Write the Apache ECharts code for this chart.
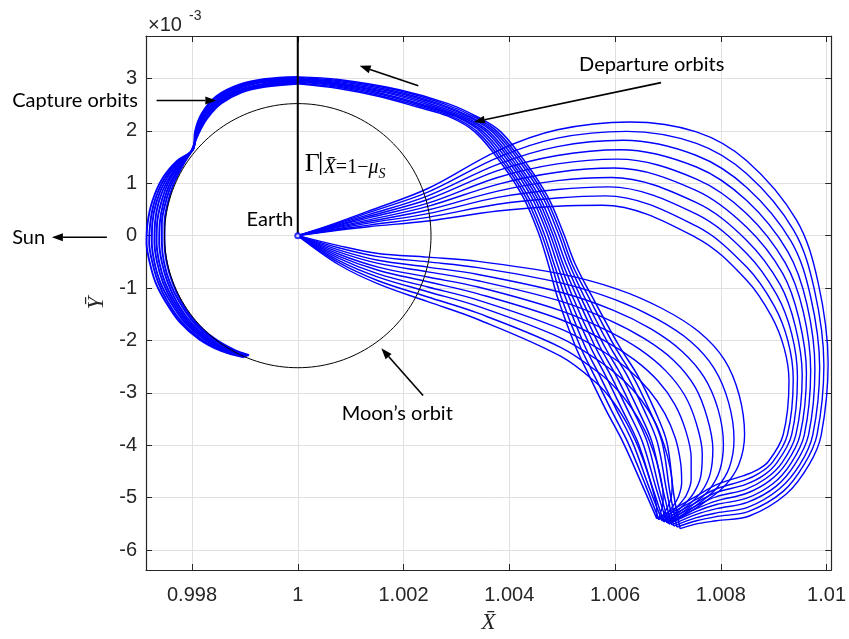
<!DOCTYPE html>
<html>
<head>
<meta charset="utf-8">
<script src="https://cdn.jsdelivr.net/npm/echarts@6/dist/echarts.min.js"></script>
<style>
  html, body { margin: 0; padding: 0; background: #ffffff; }
  #chart { width: 849px; height: 639px; }
</style>
</head>
<body>
<div id="chart"></div>
<script>
// Axis setup (Ȳ values are in units of 10^-3)
const xTicks = [0.998, 1, 1.002, 1.004, 1.006, 1.008, 1.01];
const yTicks = [-6, -5, -4, -3, -2, -1, 0, 1, 2, 3];
const xRange = [0.99713, 1.01009];
const yRange = [-6.38, 3.81];

// Earth and the Moon's circular orbit about it
const earth = [1, 0];
const moonOrbitRadius = 2.52e-3;

// Departure orbits leaving Earth on the upper side: out past X̄ = 1.01, down and round to the turning point
const departureUpper = [
  [[1,0],[1.00058,0.19],[1.00134,0.47],[1.00246,0.90],[1.00378,1.62],[1.00491,2.02],[1.00628,2.17],[1.00754,1.98],[1.00849,1.43],[1.00943,0.30],[1.00984,-0.89],[1.01003,-2.43],[1.00990,-3.80],[1.00967,-4.37],[1.00924,-4.93],[1.00854,-5.35],[1.00792,-5.44],[1.00754,-5.50],[1.00723,-5.59]],
  [[1,0],[1.00058,0.18],[1.00134,0.44],[1.00246,0.83],[1.00378,1.49],[1.00491,1.86],[1.00622,1.99],[1.00754,1.76],[1.00849,1.18],[1.00938,0.10],[1.00977,-1.03],[1.00995,-2.47],[1.00982,-3.80],[1.00958,-4.36],[1.00918,-4.88],[1.00853,-5.26],[1.00792,-5.36],[1.00754,-5.44],[1.00717,-5.56]],
  [[1,0],[1.00058,0.17],[1.00134,0.40],[1.00246,0.76],[1.00378,1.36],[1.00491,1.70],[1.00616,1.82],[1.00754,1.53],[1.00849,0.92],[1.00933,-0.11],[1.00970,-1.17],[1.00987,-2.51],[1.00974,-3.80],[1.00950,-4.36],[1.00911,-4.83],[1.00852,-5.18],[1.00792,-5.29],[1.00754,-5.38],[1.00711,-5.54]],
  [[1,0],[1.00058,0.15],[1.00134,0.37],[1.00246,0.69],[1.00378,1.24],[1.00491,1.53],[1.00611,1.64],[1.00754,1.31],[1.00849,0.67],[1.00927,-0.31],[1.00963,-1.31],[1.00978,-2.54],[1.00966,-3.80],[1.00941,-4.35],[1.00905,-4.78],[1.00850,-5.09],[1.00792,-5.21],[1.00754,-5.32],[1.00707,-5.52]],
  [[1,0],[1.00058,0.14],[1.00134,0.34],[1.00246,0.62],[1.00378,1.11],[1.00491,1.37],[1.00605,1.46],[1.00754,1.08],[1.00849,0.42],[1.00922,-0.52],[1.00956,-1.45],[1.00970,-2.58],[1.00958,-3.80],[1.00933,-4.34],[1.00899,-4.73],[1.00849,-5.01],[1.00792,-5.13],[1.00754,-5.26],[1.00702,-5.50]],
  [[1,0],[1.00058,0.13],[1.00134,0.30],[1.00246,0.56],[1.00378,0.98],[1.00491,1.21],[1.00599,1.29],[1.00754,0.86],[1.00849,0.16],[1.00917,-0.72],[1.00948,-1.59],[1.00962,-2.62],[1.00950,-3.80],[1.00924,-4.34],[1.00892,-4.68],[1.00848,-4.92],[1.00792,-5.06],[1.00754,-5.21],[1.00698,-5.48]],
  [[1,0],[1.00058,0.12],[1.00134,0.27],[1.00246,0.49],[1.00378,0.85],[1.00491,1.05],[1.00593,1.11],[1.00754,0.63],[1.00849,-0.09],[1.00912,-0.93],[1.00941,-1.73],[1.00954,-2.66],[1.00942,-3.80],[1.00916,-4.33],[1.00886,-4.63],[1.00847,-4.84],[1.00792,-4.98],[1.00754,-5.15],[1.00692,-5.46]],
  [[1,0],[1.00058,0.10],[1.00134,0.24],[1.00246,0.42],[1.00378,0.73],[1.00491,0.88],[1.00588,0.93],[1.00754,0.41],[1.00849,-0.34],[1.00906,-1.13],[1.00934,-1.87],[1.00945,-2.69],[1.00934,-3.80],[1.00907,-4.32],[1.00880,-4.58],[1.00846,-4.75],[1.00792,-4.90],[1.00754,-5.09],[1.00689,-5.44]],
  [[1,0],[1.00058,0.09],[1.00134,0.20],[1.00246,0.35],[1.00378,0.60],[1.00491,0.72],[1.00582,0.76],[1.00754,0.18],[1.00849,-0.60],[1.00901,-1.34],[1.00927,-2.01],[1.00937,-2.73],[1.00926,-3.80],[1.00898,-4.32],[1.00873,-4.53],[1.00844,-4.67],[1.00792,-4.83],[1.00754,-5.03],[1.00683,-5.42]],
  [[1,0],[1.00058,0.08],[1.00134,0.17],[1.00246,0.28],[1.00378,0.47],[1.00491,0.56],[1.00576,0.58],[1.00754,-0.04],[1.00849,-0.85],[1.00896,-1.54],[1.00920,-2.15],[1.00929,-2.77],[1.00918,-3.80],[1.00890,-4.31],[1.00867,-4.48],[1.00843,-4.58],[1.00792,-4.75],[1.00754,-4.97],[1.00679,-5.40]]
];

// Departure orbits leaving Earth on the lower side, bending down to the turning point
const departureLower = [
  [[1,0],[1.00077,-0.19],[1.00152,-0.34],[1.00246,-0.41],[1.00341,-0.49],[1.00497,-0.73],[1.00604,-1.02],[1.00689,-1.39],[1.00758,-1.83],[1.00807,-2.37],[1.00835,-3.05],[1.00845,-3.80],[1.00834,-4.37],[1.00807,-4.78],[1.00770,-5.08],[1.00736,-5.31],[1.00702,-5.50]],
  [[1,0],[1.00077,-0.23],[1.00152,-0.40],[1.00246,-0.50],[1.00341,-0.61],[1.00497,-0.90],[1.00600,-1.22],[1.00679,-1.59],[1.00743,-2.02],[1.00788,-2.54],[1.00815,-3.19],[1.00825,-3.89],[1.00816,-4.43],[1.00793,-4.81],[1.00760,-5.10],[1.00730,-5.31],[1.00702,-5.50]],
  [[1,0],[1.00077,-0.27],[1.00152,-0.47],[1.00246,-0.60],[1.00341,-0.74],[1.00497,-1.08],[1.00596,-1.42],[1.00668,-1.78],[1.00727,-2.21],[1.00769,-2.71],[1.00795,-3.32],[1.00805,-3.98],[1.00798,-4.48],[1.00778,-4.85],[1.00750,-5.11],[1.00723,-5.31],[1.00698,-5.48]],
  [[1,0],[1.00077,-0.31],[1.00152,-0.53],[1.00246,-0.69],[1.00341,-0.86],[1.00497,-1.25],[1.00591,-1.62],[1.00658,-1.98],[1.00712,-2.39],[1.00751,-2.88],[1.00774,-3.46],[1.00785,-4.07],[1.00780,-4.54],[1.00764,-4.88],[1.00740,-5.13],[1.00717,-5.31],[1.00698,-5.48]],
  [[1,0],[1.00077,-0.35],[1.00152,-0.60],[1.00246,-0.79],[1.00341,-0.98],[1.00497,-1.43],[1.00587,-1.82],[1.00647,-2.17],[1.00696,-2.58],[1.00732,-3.05],[1.00754,-3.59],[1.00765,-4.16],[1.00762,-4.60],[1.00749,-4.91],[1.00730,-5.14],[1.00711,-5.31],[1.00692,-5.46]],
  [[1,0],[1.00077,-0.39],[1.00152,-0.66],[1.00246,-0.88],[1.00341,-1.11],[1.00497,-1.60],[1.00583,-2.02],[1.00637,-2.37],[1.00681,-2.77],[1.00713,-3.22],[1.00734,-3.73],[1.00744,-4.24],[1.00744,-4.65],[1.00735,-4.95],[1.00719,-5.16],[1.00704,-5.31],[1.00692,-5.46]],
  [[1,0],[1.00077,-0.43],[1.00152,-0.73],[1.00246,-0.98],[1.00341,-1.23],[1.00497,-1.78],[1.00579,-2.22],[1.00626,-2.56],[1.00665,-2.96],[1.00694,-3.39],[1.00714,-3.86],[1.00724,-4.33],[1.00726,-4.71],[1.00720,-4.98],[1.00709,-5.17],[1.00698,-5.31],[1.00689,-5.44]],
  [[1,0],[1.00077,-0.47],[1.00152,-0.79],[1.00246,-1.07],[1.00341,-1.35],[1.00497,-1.95],[1.00574,-2.42],[1.00616,-2.76],[1.00650,-3.14],[1.00676,-3.56],[1.00693,-4.00],[1.00704,-4.42],[1.00708,-4.77],[1.00706,-5.01],[1.00699,-5.19],[1.00692,-5.31],[1.00689,-5.44]],
  [[1,0],[1.00077,-0.51],[1.00152,-0.86],[1.00246,-1.17],[1.00341,-1.48],[1.00497,-2.13],[1.00570,-2.62],[1.00605,-2.95],[1.00634,-3.33],[1.00657,-3.73],[1.00673,-4.13],[1.00684,-4.51],[1.00690,-4.82],[1.00691,-5.05],[1.00689,-5.20],[1.00685,-5.31],[1.00683,-5.42]],
  [[1,0],[1.00077,-0.55],[1.00152,-0.92],[1.00246,-1.26],[1.00341,-1.60],[1.00497,-2.30],[1.00566,-2.82],[1.00595,-3.15],[1.00619,-3.52],[1.00638,-3.90],[1.00653,-4.27],[1.00664,-4.60],[1.00672,-4.88],[1.00677,-5.08],[1.00679,-5.22],[1.00679,-5.31],[1.00679,-5.40]]
];

// Departure legs from the turning point back up to the section Γ at X̄ = 1 − μS
const returnLeg = [
  [[1.00679,-5.40],[1.00651,-4.75],[1.00615,-3.94],[1.00583,-3.33],[1.00551,-2.67],[1.00525,-2.11],[1.00491,-1.17],[1.00474,-0.55],[1.00455,0.06],[1.00427,0.72],[1.00388,1.34],[1.00335,1.98],[1.00284,2.28],[1.00228,2.45],[1.00152,2.66],[1.00077,2.81],[1.00000,2.90]],
  [[1.00683,-5.42],[1.00658,-4.77],[1.00624,-3.94],[1.00593,-3.33],[1.00561,-2.67],[1.00534,-2.11],[1.00498,-1.17],[1.00480,-0.55],[1.00460,0.06],[1.00432,0.72],[1.00393,1.34],[1.00340,1.98],[1.00290,2.28],[1.00234,2.46],[1.00156,2.67],[1.00077,2.83],[1.00000,2.91]],
  [[1.00689,-5.44],[1.00664,-4.79],[1.00633,-3.94],[1.00603,-3.33],[1.00571,-2.67],[1.00543,-2.11],[1.00506,-1.17],[1.00485,-0.55],[1.00465,0.06],[1.00437,0.72],[1.00398,1.34],[1.00346,1.98],[1.00297,2.28],[1.00240,2.47],[1.00160,2.69],[1.00077,2.85],[1.00000,2.93]],
  [[1.00692,-5.46],[1.00671,-4.81],[1.00643,-3.94],[1.00614,-3.33],[1.00582,-2.67],[1.00553,-2.11],[1.00513,-1.17],[1.00491,-0.55],[1.00471,0.06],[1.00443,0.72],[1.00404,1.34],[1.00351,1.98],[1.00303,2.27],[1.00247,2.47],[1.00165,2.70],[1.00077,2.87],[1.00000,2.94]],
  [[1.00698,-5.48],[1.00678,-4.83],[1.00652,-3.94],[1.00624,-3.33],[1.00592,-2.67],[1.00562,-2.11],[1.00520,-1.17],[1.00497,-0.55],[1.00476,0.06],[1.00448,0.72],[1.00409,1.34],[1.00357,1.98],[1.00309,2.27],[1.00253,2.48],[1.00169,2.72],[1.00077,2.89],[1.00000,2.96]],
  [[1.00702,-5.50],[1.00684,-4.85],[1.00661,-3.94],[1.00634,-3.33],[1.00602,-2.67],[1.00571,-2.11],[1.00528,-1.17],[1.00502,-0.55],[1.00481,0.06],[1.00453,0.72],[1.00414,1.34],[1.00362,1.98],[1.00316,2.27],[1.00259,2.49],[1.00173,2.73],[1.00077,2.90],[1.00000,2.97]],
  [[1.00707,-5.52],[1.00691,-4.87],[1.00670,-3.94],[1.00644,-3.33],[1.00612,-2.67],[1.00580,-2.11],[1.00535,-1.17],[1.00508,-0.55],[1.00486,0.06],[1.00458,0.72],[1.00419,1.34],[1.00368,1.98],[1.00322,2.27],[1.00265,2.50],[1.00177,2.75],[1.00077,2.92],[1.00000,2.99]],
  [[1.00711,-5.54],[1.00698,-4.89],[1.00680,-3.94],[1.00655,-3.33],[1.00623,-2.67],[1.00590,-2.11],[1.00542,-1.17],[1.00514,-0.55],[1.00492,0.06],[1.00464,0.72],[1.00425,1.34],[1.00373,1.98],[1.00328,2.26],[1.00272,2.50],[1.00182,2.76],[1.00077,2.94],[1.00000,3.00]],
  [[1.00717,-5.56],[1.00704,-4.91],[1.00689,-3.94],[1.00665,-3.33],[1.00633,-2.67],[1.00599,-2.11],[1.00550,-1.17],[1.00519,-0.55],[1.00497,0.06],[1.00469,0.72],[1.00430,1.34],[1.00378,1.98],[1.00335,2.26],[1.00278,2.51],[1.00186,2.78],[1.00077,2.96],[1.00000,3.02]],
  [[1.00723,-5.59],[1.00711,-4.93],[1.00698,-3.94],[1.00675,-3.33],[1.00643,-2.67],[1.00608,-2.11],[1.00557,-1.17],[1.00525,-0.55],[1.00502,0.06],[1.00474,0.72],[1.00435,1.34],[1.00384,1.98],[1.00341,2.26],[1.00284,2.52],[1.00190,2.79],[1.00077,2.98],[1.00000,3.03]]
];

// Capture orbits: from Γ over to the Moon, then along the outside of the Moon's orbit
const captureLeg = [
  [[1.00000,3.03],[0.99938,2.99],[0.99889,2.88],[0.99846,2.66],[0.99819,2.34],[0.99806,2.00],[0.99803,1.66],[0.99772,1.43],[0.99744,1.09],[0.99725,0.66],[0.99716,0.24],[0.99714,-0.13],[0.99720,-0.51],[0.99731,-0.89],[0.99750,-1.26],[0.99776,-1.64],[0.99814,-1.98],[0.99855,-2.20],[0.99898,-2.32]],
  [[1.00000,3.01],[0.99938,2.97],[0.99890,2.86],[0.99847,2.64],[0.99820,2.33],[0.99807,1.99],[0.99802,1.65],[0.99774,1.42],[0.99747,1.07],[0.99729,0.65],[0.99721,0.24],[0.99719,-0.13],[0.99725,-0.51],[0.99736,-0.89],[0.99754,-1.26],[0.99780,-1.64],[0.99818,-1.98],[0.99859,-2.20],[0.99899,-2.31]],
  [[1.00000,2.99],[0.99938,2.95],[0.99890,2.84],[0.99849,2.62],[0.99822,2.31],[0.99808,1.98],[0.99802,1.65],[0.99775,1.41],[0.99750,1.06],[0.99733,0.65],[0.99725,0.24],[0.99724,-0.13],[0.99729,-0.51],[0.99740,-0.89],[0.99759,-1.26],[0.99785,-1.64],[0.99822,-1.97],[0.99862,-2.19],[0.99901,-2.31]],
  [[1.00000,2.97],[0.99938,2.93],[0.99891,2.82],[0.99850,2.60],[0.99823,2.30],[0.99809,1.97],[0.99801,1.64],[0.99777,1.40],[0.99753,1.04],[0.99737,0.64],[0.99730,0.24],[0.99729,-0.13],[0.99734,-0.51],[0.99745,-0.89],[0.99763,-1.26],[0.99789,-1.64],[0.99826,-1.97],[0.99866,-2.19],[0.99902,-2.30]],
  [[1.00000,2.96],[0.99938,2.90],[0.99891,2.79],[0.99851,2.58],[0.99825,2.28],[0.99809,1.97],[0.99801,1.64],[0.99779,1.39],[0.99756,1.03],[0.99742,0.64],[0.99734,0.24],[0.99733,-0.13],[0.99738,-0.51],[0.99749,-0.89],[0.99767,-1.26],[0.99793,-1.64],[0.99830,-1.97],[0.99869,-2.19],[0.99904,-2.30]],
  [[1.00000,2.94],[0.99938,2.88],[0.99892,2.77],[0.99852,2.56],[0.99826,2.27],[0.99810,1.96],[0.99800,1.63],[0.99781,1.38],[0.99759,1.01],[0.99746,0.63],[0.99739,0.24],[0.99738,-0.13],[0.99743,-0.51],[0.99754,-0.89],[0.99771,-1.26],[0.99797,-1.64],[0.99834,-1.97],[0.99873,-2.19],[0.99905,-2.29]],
  [[1.00000,2.92],[0.99938,2.86],[0.99892,2.75],[0.99854,2.54],[0.99828,2.25],[0.99811,1.95],[0.99800,1.63],[0.99782,1.37],[0.99762,1.00],[0.99750,0.63],[0.99743,0.24],[0.99743,-0.13],[0.99747,-0.51],[0.99758,-0.89],[0.99776,-1.26],[0.99802,-1.64],[0.99838,-1.96],[0.99877,-2.18],[0.99907,-2.29]],
  [[1.00000,2.90],[0.99938,2.84],[0.99893,2.73],[0.99855,2.52],[0.99829,2.24],[0.99812,1.94],[0.99799,1.62],[0.99784,1.36],[0.99765,0.98],[0.99754,0.62],[0.99748,0.24],[0.99748,-0.13],[0.99752,-0.51],[0.99763,-0.89],[0.99780,-1.26],[0.99806,-1.64],[0.99842,-1.96],[0.99880,-2.18],[0.99908,-2.28]]
];

// Annotation arrows [from, to] and text anchors, in axis units
const arrows = [
  [[0.99733, 2.58], [0.99846, 2.58]],
  [[0.99639, -0.03], [0.99535, -0.03]],
  [[1.00687, 2.92], [1.00333, 2.17]],
  [[1.00228, 2.86], [1.00117, 3.24]],
  [[1.00237, -3.05], [1.00158, -2.15]]
];
const notes = [
  { text: 'Capture orbits', at: [0.99460, 2.58], align: 'left' },
  { text: 'Sun', at: [0.99460, -0.03], align: 'left' },
  { text: 'Earth', at: [0.99992, 0.30], align: 'right' },
  { text: 'Departure orbits', at: [1.00532, 3.26], align: 'left' },
  { text: 'Moon\u2019s orbit', at: [1.00083, -3.39], align: 'left' }
];
const sectionLabelAt = [1.00013, 1.37];

const ORBIT_BLUE = '#0000ff';
const AXIS_GREY = '#262626';
const tickFont = { fontFamily: 'Liberation Sans, Arial, sans-serif', fontSize: 20, color: AXIS_GREY };

function moonCircle() {
  const pts = [];
  for (let deg = 0; deg <= 360; deg += 2) {
    const t = deg * Math.PI / 180;
    pts.push([earth[0] + moonOrbitRadius * Math.cos(t), moonOrbitRadius * 1000 * Math.sin(t)]);
  }
  return pts;
}

function orbitSeries(curves, width) {
  return curves.map(c => ({
    type: 'line', data: c, showSymbol: false, smooth: 0.35, silent: true, z: 2,
    lineStyle: { color: ORBIT_BLUE, width: width }
  }));
}

const fmtX = v => String(parseFloat(Number(v).toFixed(4)));

const chart = echarts.init(document.getElementById('chart'), null, { renderer: 'canvas' });

const frameAxis = {
  type: 'value', axisLine: { show: true, onZero: false, lineStyle: { color: AXIS_GREY, width: 1.2 } },
  axisLabel: { show: false }, splitLine: { show: false }
};

const option = {
  animation: false,
  backgroundColor: '#ffffff',
  grid: { left: 146, right: 14, top: 36, bottom: 62 },
  xAxis: [
    {
      type: 'value', min: xRange[0], max: xRange[1], position: 'bottom',
      axisLine: { show: true, onZero: false, lineStyle: { color: AXIS_GREY, width: 1.2 } },
      axisTick: { show: true, inside: true, length: 6, customValues: xTicks, lineStyle: { color: AXIS_GREY } },
      axisLabel: Object.assign({ customValues: xTicks, margin: 15, formatter: fmtX }, tickFont),
      splitLine: { show: true, lineStyle: { color: '#e0e0e0', width: 1 } },
      name: 'X\u0304', nameLocation: 'middle', nameGap: 41,
      nameTextStyle: { fontFamily: 'Liberation Serif, serif', fontStyle: 'italic', fontSize: 23, color: AXIS_GREY }
    },
    Object.assign({}, frameAxis, {
      min: xRange[0], max: xRange[1], position: 'top',
      axisTick: { show: true, inside: true, length: 6, customValues: xTicks, lineStyle: { color: AXIS_GREY } }
    })
  ],
  yAxis: [
    {
      type: 'value', min: yRange[0], max: yRange[1], position: 'left',
      axisLine: { show: true, onZero: false, lineStyle: { color: AXIS_GREY, width: 1.2 } },
      axisTick: { show: true, inside: true, length: 6, customValues: yTicks, lineStyle: { color: AXIS_GREY } },
      axisLabel: Object.assign({ customValues: yTicks, margin: 9 }, tickFont),
      splitLine: { show: true, lineStyle: { color: '#e0e0e0', width: 1 } },
      name: '\u0232', nameLocation: 'middle', nameGap: 34, nameRotate: 90,
      nameTextStyle: { fontFamily: 'Liberation Serif, serif', fontStyle: 'italic', fontSize: 23, color: AXIS_GREY }
    },
    Object.assign({}, frameAxis, {
      min: yRange[0], max: yRange[1], position: 'right',
      axisTick: { show: true, inside: true, length: 6, customValues: yTicks, lineStyle: { color: AXIS_GREY } }
    })
  ],
  series: [
    ...orbitSeries(departureUpper, 1.4),
    ...orbitSeries(departureLower, 1.4),
    ...orbitSeries(returnLeg, 1.5),
    ...orbitSeries(captureLeg, 1.9),
    {
      type: 'line', data: moonCircle(), showSymbol: false, silent: true, z: 4,
      lineStyle: { color: '#000000', width: 1 }
    },
    {
      type: 'line', data: [earth, [earth[0], yRange[1]]], showSymbol: false, silent: true, z: 5,
      lineStyle: { color: '#000000', width: 2 }
    },
    {
      type: 'scatter', data: [earth], symbol: 'emptyCircle', symbolSize: 5, silent: true, z: 6,
      itemStyle: { color: ORBIT_BLUE, borderColor: ORBIT_BLUE, borderWidth: 1 }
    }
  ]
};

chart.setOption(option);

// Annotations placed through the axes' own coordinate mapping
const px = p => chart.convertToPixel({ xAxisIndex: 0, yAxisIndex: 0 }, p);
const measure = document.createElement('canvas').getContext('2d');
const textWidth = (font, str) => { measure.font = font; return measure.measureText(str).width; };
const graphics = [];

arrows.forEach(([from, to]) => {
  const a = px(from), b = px(to);
  const ang = Math.atan2(b[1] - a[1], b[0] - a[0]);
  const len = 11, half = 4;
  const back = [b[0] - len * Math.cos(ang), b[1] - len * Math.sin(ang)];
  graphics.push({
    type: 'line', silent: true, z: 20,
    shape: { x1: a[0], y1: a[1], x2: back[0], y2: back[1] },
    style: { stroke: '#000', lineWidth: 1.6 }
  });
  graphics.push({
    type: 'polygon', silent: true, z: 20,
    shape: { points: [
      b,
      [back[0] + half * Math.sin(ang), back[1] - half * Math.cos(ang)],
      [back[0] - half * Math.sin(ang), back[1] + half * Math.cos(ang)]
    ] },
    style: { fill: '#000' }
  });
});

notes.forEach(n => {
  const p = px(n.at);
  graphics.push({
    type: 'text', silent: true, z: 20, x: p[0], y: p[1],
    style: { text: n.text, fill: '#000', font: '20px Lato, "Open Sans", sans-serif',
             textAlign: n.align, textVerticalAlign: 'middle' }
  });
});

// Section label Γ|X̄=1−μS, laid out piece by piece
const s = px(sectionLabelAt);
const fGamma = '26px "Liberation Serif", serif';
const fItal = 'italic 20px "Liberation Serif", serif';
const fUp = '20px "Liberation Serif", serif';
const fSub = 'italic 14px "Liberation Serif", serif';
const pieces = [
  { t: 'X\u0304', f: fItal, dy: 4 },
  { t: '=1\u2212', f: fUp, dy: 4 },
  { t: '\u03bc', f: fItal, dy: 4 },
  { t: 'S', f: fSub, dy: 10 }
];
graphics.push(
  { type: 'text', silent: true, z: 20, x: s[0], y: s[1],
    style: { text: '\u0393', fill: '#000', font: fGamma, textAlign: 'left', textVerticalAlign: 'middle' } },
  { type: 'line', silent: true, z: 20,
    shape: { x1: s[0] + 16, y1: s[1] - 12, x2: s[0] + 16, y2: s[1] + 11 },
    style: { stroke: '#000', lineWidth: 1.4 } }
);
let cx = s[0] + 19;
pieces.forEach(pc => {
  graphics.push({ type: 'text', silent: true, z: 20, x: cx, y: s[1] + pc.dy,
    style: { text: pc.t, fill: '#000', font: pc.f, textAlign: 'left', textVerticalAlign: 'middle' } });
  cx += textWidth(pc.f, pc.t);
});

// Exponent marker above the Ȳ axis
const corner = px([xRange[0], yRange[1]]);
graphics.push(
  { type: 'text', silent: true, z: 20, x: corner[0] + 2, y: corner[1] - 11,
    style: { text: '\u00d710', fill: AXIS_GREY, font: '20px "Liberation Sans", Arial, sans-serif', textAlign: 'left', textVerticalAlign: 'middle' } },
  { type: 'text', silent: true, z: 20, x: corner[0] + 43, y: corner[1] - 20,
    style: { text: '-3', fill: AXIS_GREY, font: '14px "Liberation Sans", Arial, sans-serif', textAlign: 'left', textVerticalAlign: 'middle' } }
);

chart.setOption({ graphic: graphics });
</script>
</body>
</html>
